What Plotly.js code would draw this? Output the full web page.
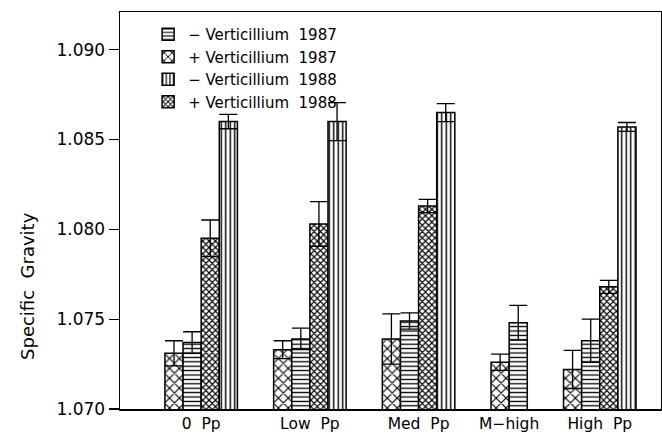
<!DOCTYPE html>
<html>
<head>
<meta charset="utf-8">
<script src="https://cdn.plot.ly/plotly-3.0.1.min.js"></script>
<style>html,body{margin:0;padding:0;background:#fff;}#chart{width:662px;height:433px;}</style>
</head>
<body>
<div id="chart"></div>
<script>
// ---- data ----
const groups = ['0\u00a0\u00a0Pp', 'Low\u00a0\u00a0Pp', 'Med\u00a0\u00a0Pp', 'M\u2212high', 'High\u00a0\u00a0Pp'];

const plus1987      = [1.0731, 1.0733, 1.0739, 1.0726, 1.0722];
const plus1987Err   = [0.0007, 0.0005, 0.0014, 0.00045, 0.00106];
const minus1987     = [1.0737, 1.0739, 1.0749, 1.0748, 1.0738];
const minus1987Err  = [0.0006, 0.0006, 0.00045, 0.00097, 0.0012];
const plus1988      = [1.0795, 1.0803, 1.0813, null, 1.0768];
const plus1988Err   = [0.00102, 0.00124, 0.00037, null, 0.00036];
const minus1988     = [1.0860, 1.0860, 1.0865, null, 1.0857];
const minus1988Err  = [0.0004, 0.00106, 0.0005, null, 0.00025];

const seriesNames = ['+ Verticillium\u00a0\u00a01987', '\u2212 Verticillium\u00a0\u00a01987',
                     '+ Verticillium\u00a0\u00a01988', '\u2212 Verticillium\u00a0\u00a01988'];
const tickLabelsY = ['1.070', '1.075', '1.080', '1.085', '1.090'];
const tickValsY   = [1.070, 1.075, 1.080, 1.085, 1.090];

// ---- layout of the bars (groups are packed; missing bars take no room) ----
const series = [
  {name: seriesNames[0], y: plus1987,  e: plus1987Err,  rank: 2, pat: {shape: 'x', size: 7,   solidity: 0.3}},
  {name: seriesNames[1], y: minus1987, e: minus1987Err, rank: 1, pat: {shape: '-', size: 4.4, solidity: 0.3}},
  {name: seriesNames[2], y: plus1988,  e: plus1988Err,  rank: 4, pat: {shape: 'x', size: 4.5, solidity: 0.45}},
  {name: seriesNames[3], y: minus1988, e: minus1988Err, rank: 3, pat: {shape: '|', size: 4.5, solidity: 0.32}}
];
const GAP = 2;
const xs = series.map(() => []);
const centers = [];
let cursor = 0;
groups.forEach((g, gi) => {
  const pos = [];
  series.forEach((s, si) => {
    if (s.y[gi] !== null) { xs[si].push(cursor + 0.5); pos.push(cursor + 0.5); cursor += 1; }
    else xs[si].push(null);
  });
  centers.push(pos.reduce((a, b) => a + b, 0) / pos.length);
  cursor += GAP;
});
const total = cursor - GAP;

const traces = series.map((s, si) => ({
  type: 'bar',
  name: s.name,
  legendrank: s.rank,
  x: xs[si],
  y: s.y,
  width: 1,
  marker: {
    color: 'white',
    line: {color: 'black', width: 1.5},
    pattern: Object.assign({fgcolor: 'black', bgcolor: 'white'}, s.pat)
  },
  error_y: {type: 'data', array: s.e, visible: true, color: 'black', thickness: 1.3, width: 9}
}));

const font = 'DejaVu Sans, Verdana, sans-serif';
const layout = {
  width: 662, height: 433,
  margin: {l: 120, r: 1, t: 12, b: 24},
  paper_bgcolor: 'white', plot_bgcolor: 'white',
  barmode: 'overlay',
  showlegend: true,
  legend: {x: 0.052, y: 0.985, xanchor: 'left', yanchor: 'top', bgcolor: 'rgba(0,0,0,0)',
           font: {family: font, size: 15, color: 'black'}, tracegroupgap: 0},
  xaxis: {
    range: [-2.48, total + 1.38],
    tickmode: 'array', tickvals: centers, ticktext: groups,
    showline: true, linecolor: 'black', linewidth: 1.5, mirror: true,
    ticks: '', showgrid: false, zeroline: false,
    tickfont: {family: font, size: 15.5, color: 'black'}
  },
  yaxis: {
    range: [1.070, 1.0921],
    tickmode: 'array', tickvals: tickValsY, ticktext: tickLabelsY,
    ticks: 'outside', ticklen: 10, tickwidth: 1.3, tickcolor: 'black',
    showline: true, linecolor: 'black', linewidth: 1.5, mirror: true,
    showgrid: false, zeroline: false,
    tickfont: {family: font, size: 17, color: 'black'}
  },
  annotations: [{
    text: 'Specific\u00a0\u00a0Gravity', textangle: -90, showarrow: false,
    xref: 'paper', yref: 'paper', x: -0.17, y: 0.31, xanchor: 'center', yanchor: 'middle',
    font: {family: font, size: 18, color: 'black'}
  }]
};

Plotly.newPlot('chart', traces, layout, {staticPlot: true, displayModeBar: false});
</script>
</body>
</html>
